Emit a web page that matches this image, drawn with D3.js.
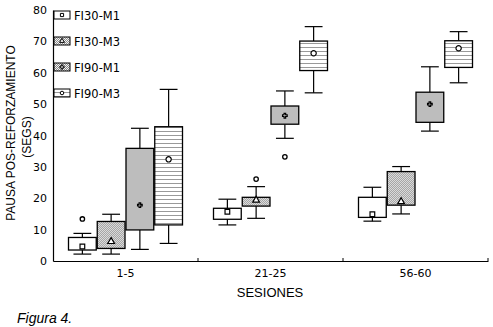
<!DOCTYPE html>
<html>
<head>
<meta charset="utf-8">
<script src="https://cdn.jsdelivr.net/npm/d3@7"></script>
<style>
    body { margin: 0; background: #fff; }
    svg { display: block; }
</style>
</head>
<body>
<div id="chart"></div>
<script>
// sessions blocks and series
const sessions = ["1-5", "21-25", "56-60"];
const seriesNames = ["FI30-M1", "FI30-M3", "FI90-M1", "FI90-M3"];
const yTicks = [0, 10, 20, 30, 40, 50, 60, 70, 80];

// box stats per series, one value per session block
const whiskerLow = {
    "FI30-M1": [2.2, 11.5, 12.7],
    "FI30-M3": [2.2, 13.6, 15.0],
    "FI90-M1": [3.7, 39.1, 41.4],
    "FI90-M3": [5.6, 53.6, 56.8],
};
const boxLow = {
    "FI30-M1": [3.5, 13.3, 13.9],
    "FI30-M3": [4.0, 17.5, 17.8],
    "FI90-M1": [9.9, 43.6, 44.2],
    "FI90-M3": [11.5, 60.7, 61.7],
};
const medians = {
    "FI30-M1": [4.6, 15.7, 14.9],
    "FI30-M3": [6.2, 19.4, 18.9],
    "FI90-M1": [17.8, 46.3, 50.0],
    "FI90-M3": [32.4, 66.2, 67.8],
};
const boxHigh = {
    "FI30-M1": [7.5, 16.8, 20.3],
    "FI30-M3": [12.6, 20.3, 28.5],
    "FI90-M1": [35.9, 49.4, 53.8],
    "FI90-M3": [42.8, 70.1, 70.2],
};
const whiskerHigh = {
    "FI30-M1": [8.8, 19.7, 23.5],
    "FI30-M3": [14.9, 23.7, 30.1],
    "FI90-M1": [42.3, 54.2, 61.9],
    "FI90-M3": [54.7, 74.7, 73.1],
};
// outliers: [series, session, value]
const outliers = [
    ["FI30-M1", "1-5", 13.4],
    ["FI30-M3", "21-25", 26.1],
    ["FI90-M1", "21-25", 33.2],
];

const width = 493, height = 327;
const margin = { top: 10, right: 5, bottom: 66, left: 53 };
const plotBottom = height - margin.bottom;

const svg = d3.select("#chart").append("svg")
    .attr("width", width)
    .attr("height", height);

const defs = svg.append("defs");

// checker texture for FI30-M3 / FI90-M1
function addChecker(id, dark) {
    const p = defs.append("pattern")
        .attr("id", id)
        .attr("patternUnits", "userSpaceOnUse")
        .attr("width", 2).attr("height", 2);
    p.append("rect").attr("width", 2).attr("height", 2).attr("fill", "#f4f4f4");
    p.append("rect").attr("width", 1).attr("height", 1).attr("fill", dark);
    p.append("rect").attr("x", 1).attr("y", 1).attr("width", 1).attr("height", 1).attr("fill", dark);
}
addChecker("chk1", "#8c8c8c");
addChecker("chk2", "#858585");

const hl = defs.append("pattern")
    .attr("id", "hlines")
    .attr("patternUnits", "userSpaceOnUse")
    .attr("width", 4).attr("height", 4);
hl.append("rect").attr("width", 4).attr("height", 4).attr("fill", "#fff");
hl.append("rect").attr("y", 3).attr("width", 4).attr("height", 1).attr("fill", "#999");

const fills = {
    "FI30-M1": "#fff",
    "FI30-M3": "url(#chk1)",
    "FI90-M1": "url(#chk2)",
    "FI90-M3": "url(#hlines)",
};
const markerShapes = {
    "FI30-M1": d3.symbolSquare,
    "FI30-M3": d3.symbolTriangle,
    "FI90-M1": d3.symbolCross,
    "FI90-M3": d3.symbolCircle,
};
const markerSizes = { "FI30-M1": 22, "FI30-M3": 20, "FI90-M1": 12, "FI90-M3": 22 };

const x = d3.scaleBand().domain(sessions).range([margin.left, width - margin.right]);
const xInner = d3.scaleBand().domain(seriesNames).range([15, x.bandwidth() - 15]);
const y = d3.scaleLinear().domain([0, 80]).range([plotBottom, margin.top]);

// axes
svg.append("g")
    .attr("transform", `translate(${margin.left},0)`)
    .call(d3.axisLeft(y).tickValues(yTicks).tickSize(0).tickPadding(6))
    .call((g) => g.select(".domain").attr("stroke", "#000").attr("stroke-width", 1.2))
    .call((g) => g.selectAll("text")
        .attr("font-family", "DejaVu Sans")
        .attr("font-size", 11)
        .attr("fill", "#000"));

svg.append("g")
    .attr("transform", `translate(0,${plotBottom})`)
    .call(d3.axisBottom(x).tickSize(0).tickPadding(8).tickSizeOuter(0))
    .call((g) => g.select(".domain").attr("stroke", "#000").attr("stroke-width", 1.2))
    .call((g) => g.selectAll("text")
        .attr("font-family", "DejaVu Sans")
        .attr("font-size", 11)
        .attr("fill", "#000"));

// small tick marks at the block boundaries
svg.append("g").selectAll("line")
    .data(sessions)
    .join("line")
    .attr("x1", (d) => x(d) + x.bandwidth())
    .attr("x2", (d) => x(d) + x.bandwidth())
    .attr("y1", plotBottom)
    .attr("y2", plotBottom - 3)
    .attr("stroke", "#000");

// boxes
const boxData = [];
sessions.forEach((s, i) => {
    seriesNames.forEach((name) => {
        boxData.push({
            session: s,
            name: name,
            wLo: whiskerLow[name][i],
            bLo: boxLow[name][i],
            med: medians[name][i],
            bHi: boxHigh[name][i],
            wHi: whiskerHigh[name][i],
        });
    });
});

const bw = xInner.bandwidth();
const capW = bw * 0.62;

const boxes = svg.append("g").selectAll("g")
    .data(boxData)
    .join("g")
    .attr("transform", (d) => `translate(${x(d.session) + xInner(d.name)},0)`);

boxes.append("line")
    .attr("x1", bw / 2).attr("x2", bw / 2)
    .attr("y1", (d) => y(d.wHi)).attr("y2", (d) => y(d.bHi))
    .attr("stroke", "#000").attr("stroke-width", 1.2);
boxes.append("line")
    .attr("x1", bw / 2).attr("x2", bw / 2)
    .attr("y1", (d) => y(d.bLo)).attr("y2", (d) => y(d.wLo))
    .attr("stroke", "#000").attr("stroke-width", 1.2);
boxes.append("line")
    .attr("x1", (bw - capW) / 2).attr("x2", (bw + capW) / 2)
    .attr("y1", (d) => y(d.wHi)).attr("y2", (d) => y(d.wHi))
    .attr("stroke", "#000").attr("stroke-width", 1.2);
boxes.append("line")
    .attr("x1", (bw - capW) / 2).attr("x2", (bw + capW) / 2)
    .attr("y1", (d) => y(d.wLo)).attr("y2", (d) => y(d.wLo))
    .attr("stroke", "#000").attr("stroke-width", 1.2);
boxes.append("rect")
    .attr("x", 0.5)
    .attr("width", bw - 1)
    .attr("y", (d) => y(d.bHi))
    .attr("height", (d) => y(d.bLo) - y(d.bHi))
    .attr("fill", (d) => fills[d.name])
    .attr("stroke", "#000")
    .attr("stroke-width", 1.3);
boxes.append("path")
    .attr("transform", (d) => `translate(${bw / 2},${y(d.med)})`)
    .attr("d", (d) => d3.symbol().type(markerShapes[d.name]).size(markerSizes[d.name])())
    .attr("fill", "#fff")
    .attr("stroke", "#000")
    .attr("stroke-width", 1.2);

// outlier points
svg.append("g").selectAll("circle")
    .data(outliers)
    .join("circle")
    .attr("cx", (d) => x(d[1]) + xInner(d[0]) + bw / 2)
    .attr("cy", (d) => y(d[2]))
    .attr("r", 2.2)
    .attr("fill", "#fff")
    .attr("stroke", "#000")
    .attr("stroke-width", 1.3);

// legend
const legend = svg.append("g").selectAll("g")
    .data(seriesNames)
    .join("g")
    .attr("transform", (d, i) => `translate(54,${11 + i * 26})`);
legend.append("rect")
    .attr("width", 16).attr("height", 8)
    .attr("fill", (d) => fills[d])
    .attr("stroke", "#000");
legend.append("path")
    .attr("transform", "translate(8,4)")
    .attr("d", (d) => d3.symbol().type(markerShapes[d]).size(10)())
    .attr("fill", "#fff")
    .attr("stroke", "#000");
legend.append("text")
    .attr("x", 20)
    .attr("y", 8.5)
    .attr("font-family", "DejaVu Sans")
    .attr("font-size", 11.5)
    .text((d) => d);

// axis titles
svg.append("text")
    .attr("transform", "translate(15,133) rotate(-90)")
    .attr("text-anchor", "middle")
    .attr("font-family", "Liberation Sans")
    .attr("font-size", 12)
    .text("PAUSA POS-REFORZAMIENTO");
svg.append("text")
    .attr("transform", "translate(31,137) rotate(-90)")
    .attr("text-anchor", "middle")
    .attr("font-family", "Liberation Sans")
    .attr("font-size", 12)
    .text("(SEGS)");

svg.append("text")
    .attr("x", 270)
    .attr("y", 297)
    .attr("text-anchor", "middle")
    .attr("font-family", "Liberation Sans")
    .attr("font-size", 13)
    .text("SESIONES");

svg.append("text")
    .attr("x", 17)
    .attr("y", 323)
    .attr("font-family", "Liberation Sans")
    .attr("font-style", "italic")
    .attr("font-size", 14)
    .text("Figura 4.");
</script>
</body>
</html>
